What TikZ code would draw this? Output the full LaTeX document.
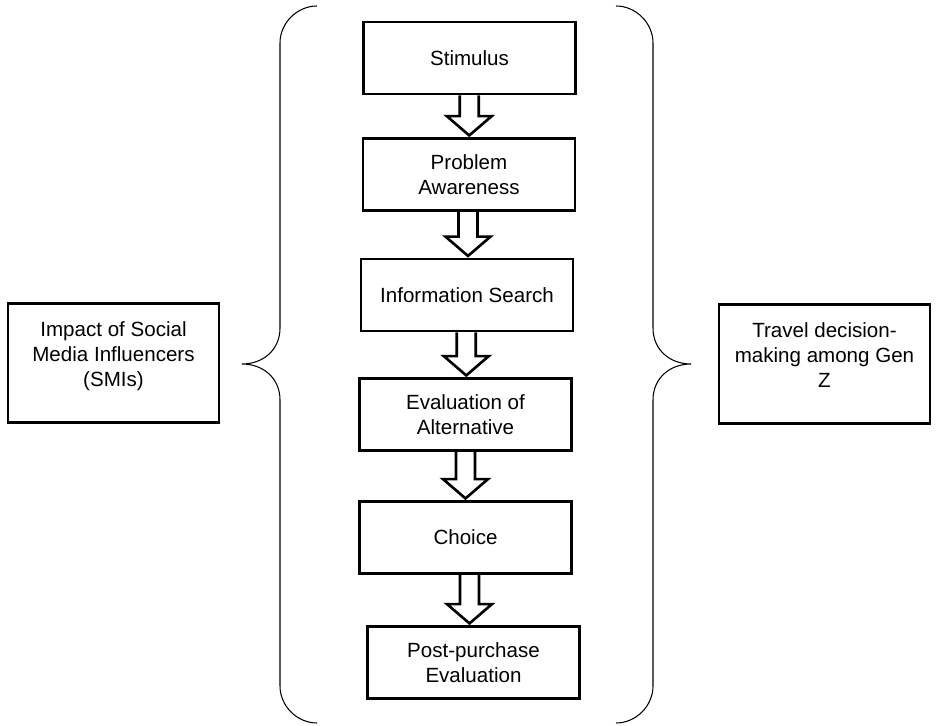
\documentclass[tikz,border=0pt]{standalone}
\usepackage{fontspec}
\setmainfont{Liberation Sans}
\usetikzlibrary{calc}

% hollow block arrow from one box down to the next
\newcommand{\blockarrow}[2]{%
	\draw[blockarr] let \p1=(#1.south), \p2=(#2.north), \n1={(\x1+\x2)/2} in
		(\n1-5.4pt,\y1) -- (\n1-5.4pt,\y2+12pt) -- (\n1-12.8pt,\y2+12pt) -- (\n1,\y2+1pt)
		-- (\n1+12.8pt,\y2+12pt) -- (\n1+5.4pt,\y2+12pt) -- (\n1+5.4pt,\y1);
}

\begin{document}
\begin{tikzpicture}[x=0.02cm,y=-0.02cm,
		every node/.style={font=\fontsize{11.7}{14.2}\selectfont},
		stagebox/.style={draw,line width=1.5pt,minimum width=4.24cm,minimum height=1.44cm,align=center,inner sep=2pt},
		sidebox/.style={draw,line width=1.5pt,minimum width=4.22cm,minimum height=2.38cm,align=center,inner sep=2pt},
		blockarr/.style={line width=1.5pt,line join=miter},
		brace/.style={line width=0.6pt}]
		\useasboundingbox (0,0) rectangle (937,726);
		\node[stagebox] (stimulus) at (469.5,58) {Stimulus};
		\node[stagebox] (awareness) at (469,174.5) {Problem\\Awareness};
		\node[stagebox] (search) at (467,295) {Information Search};
		\node[stagebox] (evaluation) at (465.5,414.5) {Evaluation of\\Alternative};
		\node[stagebox] (choice) at (465.5,537.5) {Choice};
		\node[stagebox] (postpurchase) at (473.5,662.5) {Post-purchase\\Evaluation};
		\node[sidebox] (smi) at (113.5,363) {Impact of Social\\Media Influencers\\(SMIs)\rule[-10pt]{0pt}{10pt}};
		\node[sidebox] (genz) at (824.5,364) {Travel decision-\\making among Gen\\Z\rule[-10pt]{0pt}{10pt}};
		\foreach \a/\b in {stimulus/awareness,awareness/search,search/evaluation,evaluation/choice,choice/postpurchase} {
			\blockarrow{\a}{\b}
		}
		% curly brackets round the process
		\draw[brace] (317,6) .. controls (297,6) and (280,23) .. (280,43) -- (280,328)
			.. controls (280,350) and (263,364) .. (242,364)
			.. controls (263,364) and (280,378) .. (280,400) -- (280,686)
			.. controls (280,706) and (297,723) .. (317,723);
		\draw[brace] (616,6) .. controls (636,6) and (653,23) .. (653,43) -- (653,328)
			.. controls (653,350) and (670,364) .. (691,364)
			.. controls (670,364) and (653,378) .. (653,400) -- (653,686)
			.. controls (653,706) and (636,723) .. (616,723);
	\end{tikzpicture}
\end{document}
